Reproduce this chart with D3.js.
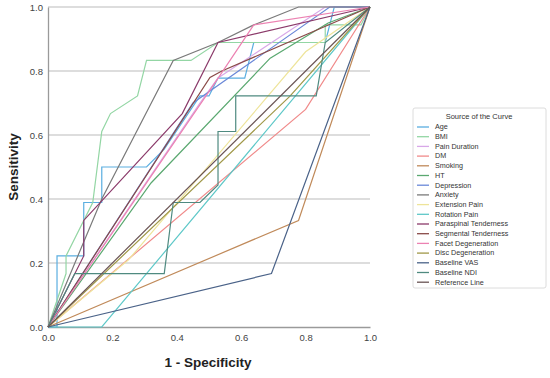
<!DOCTYPE html>
<html>
<head>
<meta charset="utf-8">
<script src="https://cdn.jsdelivr.net/npm/d3@7"></script>
<style>
  body { margin: 0; background: #fff; }
  svg { font-family: "Liberation Sans", Arial, sans-serif; }
</style>
</head>
<body>
<div id="chart"></div>
<script>
// ROC curves, points are [1 - specificity, sensitivity]
var age = [[0,0],[0.028,0],[0.028,0.222],[0.111,0.222],[0.111,0.389],[0.167,0.389],[0.167,0.5],[0.306,0.5],[0.361,0.556],[0.472,0.722],[0.5,0.722],[0.528,0.778],[0.611,0.778],[0.639,0.889],[0.861,0.889],[0.889,1],[1,1]];
var bmi = [[0,0],[0.056,0.167],[0.056,0.222],[0.139,0.389],[0.167,0.611],[0.194,0.667],[0.278,0.722],[0.306,0.833],[0.444,0.833],[0.528,0.889],[0.861,0.889],[0.861,0.944],[0.972,0.944],[1,1]];
var painDuration = [[0,0],[0.472,0.7],[0.528,0.778],[0.861,1],[1,1]];
var dm = [[0,0],[0.8,0.68],[1,1]];
var smoking = [[0,0],[0.778,0.333],[1,1]];
var ht = [[0,0],[0.32,0.45],[0.69,0.84],[0.87,0.95],[1,1]];
var depression = [[0,0],[0.45,0.7],[0.875,1],[1,1]];
var anxiety = [[0,0],[0.167,0.4],[0.389,0.833],[0.528,0.889],[0.639,0.944],[0.778,1],[1,1]];
var extensionPain = [[0,0],[0.25,0.21],[0.8,0.86],[1,1]];
var rotationPain = [[0,0],[0.167,0],[1,1]];
var paraspinal = [[0,0],[0.111,0.222],[0.111,0.333],[0.417,0.667],[0.528,0.889],[1,1]];
var segmental = [[0,0],[0.503,0.78],[0.54,0.8],[1,1]];
var facet = [[0,0],[0.53,0.78],[0.639,0.944],[1,1]];
var disc = [[0,0],[0.75,0.72],[1,1]];
var baselineVas = [[0,0],[0.694,0.167],[1,1]];
var baselineNdi = [[0,0],[0.083,0.167],[0.361,0.167],[0.389,0.389],[0.472,0.389],[0.528,0.444],[0.528,0.611],[0.583,0.611],[0.583,0.722],[0.833,0.722],[0.861,0.889],[1,1]];
var referenceLine = [[0,0],[1,1]];

var seriesNames = ["Age", "BMI", "Pain Duration", "DM", "Smoking", "HT", "Depression", "Anxiety",
  "Extension Pain", "Rotation Pain", "Paraspinal Tenderness", "Segmental Tenderness",
  "Facet Degeneration", "Disc Degeneration", "Baseline VAS", "Baseline NDI", "Reference Line"];
var seriesData = [age, bmi, painDuration, dm, smoking, ht, depression, anxiety,
  extensionPain, rotationPain, paraspinal, segmental, facet, disc, baselineVas, baselineNdi, referenceLine];
var seriesColors = ["#5aaee0", "#93d6a4", "#d8a8e8", "#f08a8a", "#c08a5a", "#5aa870", "#6a88d8", "#7a7a7a",
  "#eee49a", "#5ec8c8", "#8b3a6a", "#8a4a48", "#ec82b2", "#a09848", "#4a6288", "#4f8a80", "#6a5454"];
var ticks = [0, 0.2, 0.4, 0.6, 0.8, 1.0];

var W = 550, H = 378;
var svg = d3.select("#chart").append("svg")
  .attr("width", W).attr("height", H);

var x = d3.scaleLinear().domain([0, 1]).range([48, 370]);
var y = d3.scaleLinear().domain([0, 1]).range([327, 7]);

// grid
svg.append("g").selectAll("line")
  .data(ticks.slice(1))
  .enter().append("line")
  .attr("x1", x(0)).attr("x2", x(1))
  .attr("y1", function (d) { return y(d); })
  .attr("y2", function (d) { return y(d); })
  .attr("stroke", "#d2d2d2").attr("stroke-width", 1.3);

// axes
var xAxis = svg.append("g")
  .attr("transform", "translate(0," + y(0) + ")")
  .call(d3.axisBottom(x).tickValues(ticks).tickFormat(d3.format(".1f")).tickSize(0).tickPadding(7));
var yAxis = svg.append("g")
  .attr("transform", "translate(" + x(0) + ",0)")
  .call(d3.axisLeft(y).tickValues(ticks).tickFormat(d3.format(".1f")).tickSize(0).tickPadding(5));
[xAxis, yAxis].forEach(function (a) {
  a.select(".domain").attr("stroke", "#9a9a9a").attr("stroke-width", 1.3);
  a.selectAll("text").attr("fill", "#444").style("font-size", "9.5px")
    .style("font-family", "'Liberation Sans', Arial, sans-serif");
});

// curves
var line = d3.line()
  .x(function (d) { return x(d[0]); })
  .y(function (d) { return y(d[1]); });

svg.append("g").selectAll("path")
  .data(seriesData)
  .enter().append("path")
  .attr("d", line)
  .attr("fill", "none")
  .attr("stroke", function (d, i) { return seriesColors[i]; })
  .attr("stroke-width", 1.2);

// axis titles
svg.append("text")
  .attr("x", 208).attr("y", 367)
  .attr("text-anchor", "middle")
  .style("font-size", "13.5px").style("font-weight", "bold").attr("fill", "#222")
  .text("1 - Specificity");
svg.append("text")
  .attr("transform", "translate(18,167) rotate(-90)")
  .attr("text-anchor", "middle")
  .style("font-size", "13.5px").style("font-weight", "bold").attr("fill", "#222")
  .text("Sensitivity");

// legend
var lg = svg.append("g");
lg.append("rect")
  .attr("x", 413).attr("y", 108).attr("width", 133).attr("height", 180)
  .attr("rx", 2).attr("fill", "#fff").attr("stroke", "#dcdcdc");
lg.append("text")
  .attr("x", 479).attr("y", 119)
  .attr("text-anchor", "middle")
  .style("font-size", "7.5px").attr("fill", "#333")
  .text("Source of the Curve");
var item = lg.selectAll("g.item")
  .data(seriesNames)
  .enter().append("g")
  .attr("class", "item")
  .attr("transform", function (d, i) { return "translate(0," + (127 + i * 9.7) + ")"; });
item.append("line")
  .attr("x1", 417).attr("x2", 429)
  .attr("stroke", function (d, i) { return seriesColors[i]; })
  .attr("stroke-width", 1.3);
item.append("text")
  .attr("x", 435).attr("dy", "0.33em")
  .style("font-size", "7.2px").attr("fill", "#333")
  .text(function (d) { return d; });
</script>
</body>
</html>
